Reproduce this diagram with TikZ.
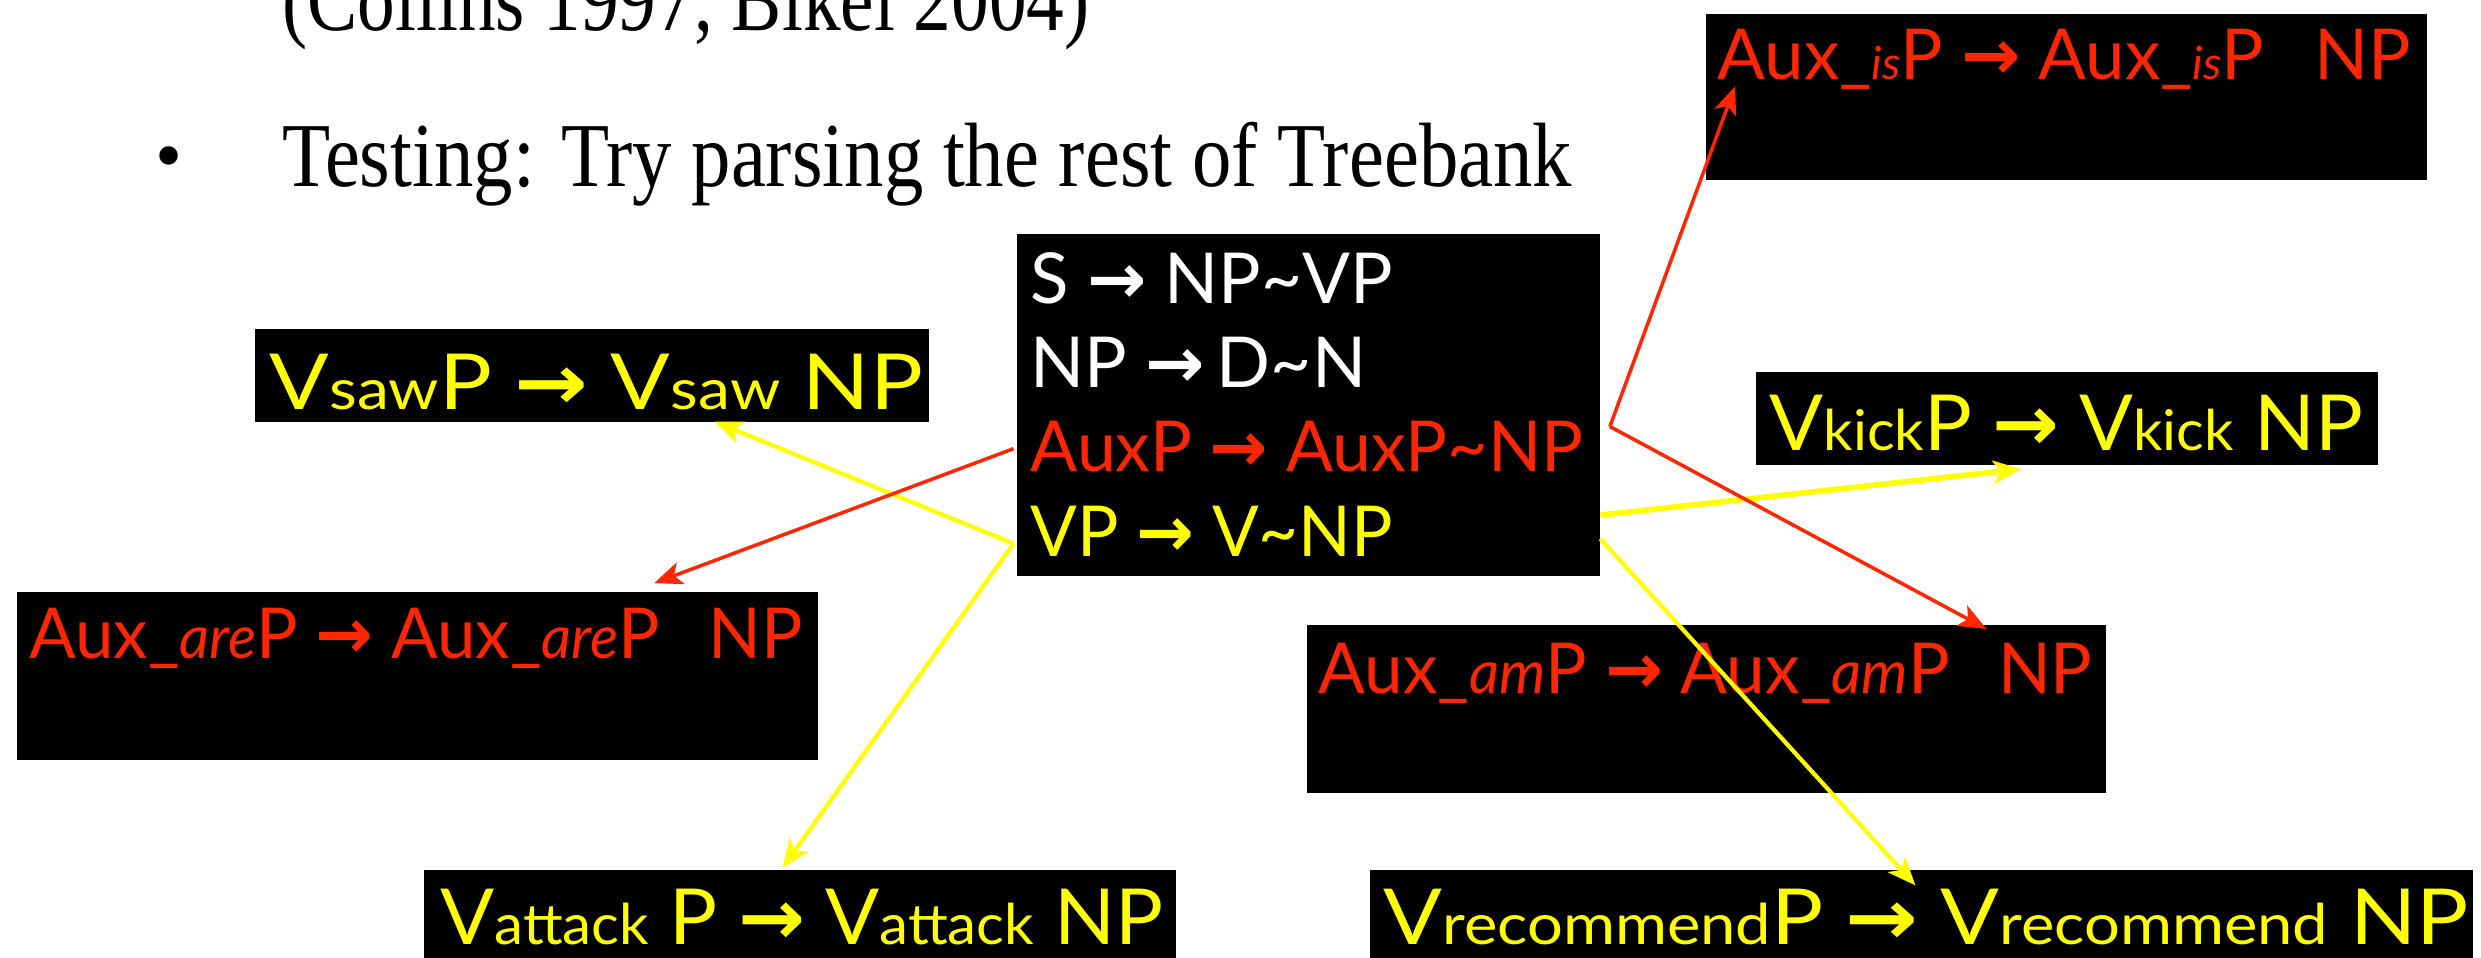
\documentclass[tikz,border=0pt]{standalone}
\usepackage{fontspec}
\usetikzlibrary{arrows.meta,fit,calc}
\setmainfont{Liberation Serif}
\newfontfamily\gs{Lato}
\newfontfamily\arrfont{DejaVu Sans}
\definecolor{kred}{RGB}{255,38,0}
\definecolor{kyel}{RGB}{255,255,0}

% squeeze a text horizontally to a given width (in picture units)
\newsavebox\fitbox
\newcommand\fitx[2]{%
  \sbox\fitbox{#2}%
  \pgfmathsetmacro\fitsx{(#1)*0.45021/\the\wd\fitbox}%
  \scalebox{\fitsx}[1]{\usebox\fitbox}}
\newcommand\rarr{{\arrfont\bfseries →}}
\newcommand\lc[1]{{\fontsize{16}{16}\selectfont #1}}
\newcommand\itsm[2]{{\fontsize{#1}{#1}\selectfont\itshape #2}}
\newcommand\tl{\textasciitilde}

\tikzset{
  box/.style={fill=black, draw=none, inner sep=0pt},
  rule/.style={anchor=base west, inner sep=0pt, font=\gs\fontsize{20}{20}\selectfont},
  vrule/.style={rule, font=\gs\fontsize{22}{22}\selectfont, text=kyel},
  serif/.style={anchor=base west, inner sep=0pt, font=\fontsize{26}{26}\selectfont},
  tip/.style={-{Stealth[length=8pt,width=6.5pt,inset=2pt]}},
  redln/.style={draw=kred, line width=1pt, tip},
  yelln/.style={draw=kyel, line width=1.2pt, tip},
}

\begin{document}
\begin{tikzpicture}[x=0.45021pt, y=-0.45021pt]
\useasboundingbox (0,0) rectangle (1568,605);
\clip (0,0) rectangle (1568,605);

% slide text
\node[serif] (cite) at (178,19) {\fitx{510}{(Collins 1997, Bikel 2004)}};
\node[inner sep=0pt, font=\fontsize{22}{22}\selectfont] (bul) at (107,104) {\textbullet};
\node[serif] (test) at (178,118) {\fitx{815}{Testing: Try parsing the rest of Treebank}};

% boxes
\node[box, fit={(643,148) (1011,364)}] (core) {};
\node[box, fit={(1078,9) (1534,114)}] (isbox) {};
\node[box, fit={(161,208) (587,267)}] (sawbox) {};
\node[box, fit={(1110,235) (1503,294)}] (kickbox) {};
\node[box, fit={(11,374) (517,480)}] (arebox) {};
\node[box, fit={(826,395) (1331,501)}] (ambox) {};
\node[box, fit={(268,550) (743,620)}] (attbox) {};
\node[box, fit={(866,550) (1563,620)}] (recbox) {};

% core rules
\node[rule, text=white] (r1) at (651,192) {\fitx{229}{S \rarr\ NP\tl VP}};
\node[rule, text=white] (r2) at (651,245) {\fitx{212}{NP \rarr\,D\tl N}};
\node[rule, text=kred] (r3) at (651,298) {\fitx{349}{AuxP \rarr\ AuxP\tl NP}};
\node[rule, text=kyel] (r4) at (651,352) {\fitx{229}{VP \rarr\ V\tl NP}};

% specialised rules
\node[rule, text=kred] (ist) at (1085,50)
  {\fitx{438}{Aux\_\itsm{13}{is}P \rarr\ Aux\_\itsm{13}{is}P\hspace{0.7em}NP}};
\node[vrule] (sawt) at (170,259) {\fitx{413}{V\lc{saw}P \rarr\ V\lc{saw} NP}};
\node[vrule] (kickt) at (1118,285) {\fitx{375}{V\lc{kick}P \rarr\ V\lc{kick} NP}};
\node[rule, text=kred] (aret) at (18,416)
  {\fitx{489}{Aux\_\itsm{17}{are}P \rarr\ Aux\_\itsm{17}{are}P\hspace{0.7em}NP}};
\node[rule, text=kred] (amt) at (833,438)
  {\fitx{489}{Aux\_\itsm{17}{am}P \rarr\ Aux\_\itsm{17}{am}P\hspace{0.7em}NP}};
\node[vrule] (attt) at (278,597) {\fitx{457}{V\lc{attack} P \rarr\ V\lc{attack} NP}};
\node[vrule] (rect) at (874,597) {\fitx{686}{V\lc{recommend}P \rarr\ V\lc{recommend} NP}};

% connector ends
\coordinate (rR) at ($(core.north east)+(6,122)$);
\coordinate (rL) at ($(core.north west)+(-2,136)$);
\coordinate (yL) at ($(core.north west)+(-2,196)$);
\coordinate (yR1) at ($(core.north east)+(0,178)$);
\coordinate (yR2) at ($(core.north east)+(0,193)$);
\coordinate (isE) at ($(isbox.north west)+(19,46)$);
\coordinate (amE) at ($(ambox.north west)+(430,3)$);
\coordinate (areE) at ($(arebox.north east)+(-104,-5)$);
\coordinate (sawE) at ($(sawbox.south west)+(291,-1)$);
\coordinate (attE) at ($(attbox.north west)+(227,-1)$);
\coordinate (kickE) at ($(kickbox.south west)+(168,2)$);
\coordinate (recE) at ($(recbox.north west)+(345,10)$);

% connectors
\draw[yelln] (yL) -- (sawE);
\draw[yelln] (yL) -- (attE);
\draw[yelln, line width=1.6pt] (yR1) -- (kickE);
\draw[yelln] (yR2) -- (recE);
\draw[redln] (rR) -- (isE);
\draw[redln] (rR) -- (amE);
\draw[redln] (rL) -- (areE);
\end{tikzpicture}
\end{document}
